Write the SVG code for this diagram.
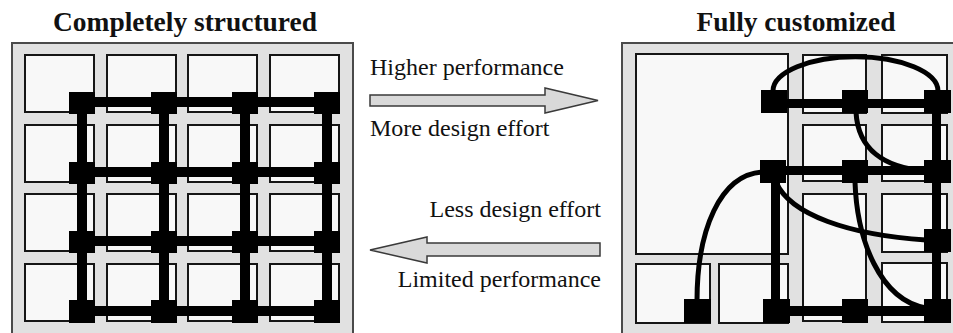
<svg xmlns="http://www.w3.org/2000/svg" width="953" height="333" viewBox="0 0 953 333">
  <style>
    .panel { fill: #e1e1e1; stroke: #4a4a4a; stroke-width: 2; }
    .cell { fill: #f8f8f8; stroke: #151515; stroke-width: 2; }
    .pad { fill: #000; }
    .wire { fill: #000; }
    .curve { fill: none; stroke: #000; stroke-width: 5; }
    .arrow { fill: #d9d9d9; stroke: #3a3a3a; stroke-width: 1.5; stroke-linejoin: miter; }
    .title { font-family: "Liberation Serif", "Times New Roman", serif; font-weight: bold; font-size: 27px; fill: #111; text-anchor: middle; }
    .label { font-family: "Liberation Serif", "Times New Roman", serif; font-size: 24px; fill: #111; }
  </style>

  <!-- Titles -->
  <text class="title" x="185" y="31" textLength="264" lengthAdjust="spacingAndGlyphs">Completely structured</text>
  <text class="title" x="796" y="31" textLength="199" lengthAdjust="spacingAndGlyphs">Fully customized</text>

  <!-- Left: regular array of blocks with a uniform routing grid -->
  <g id="structured">
    <rect class="panel" x="12" y="43" width="341" height="295"/>
    <g id="s-cells">
      <rect class="cell" x="25" y="55" width="69" height="57"/>
      <rect class="cell" x="107" y="55" width="69" height="57"/>
      <rect class="cell" x="188" y="55" width="69" height="57"/>
      <rect class="cell" x="270" y="55" width="69" height="57"/>
      <rect class="cell" x="25" y="125" width="69" height="57"/>
      <rect class="cell" x="107" y="125" width="69" height="57"/>
      <rect class="cell" x="188" y="125" width="69" height="57"/>
      <rect class="cell" x="270" y="125" width="69" height="57"/>
      <rect class="cell" x="25" y="194" width="69" height="57"/>
      <rect class="cell" x="107" y="194" width="69" height="57"/>
      <rect class="cell" x="188" y="194" width="69" height="57"/>
      <rect class="cell" x="270" y="194" width="69" height="57"/>
      <rect class="cell" x="25" y="264" width="69" height="57"/>
      <rect class="cell" x="107" y="264" width="69" height="57"/>
      <rect class="cell" x="188" y="264" width="69" height="57"/>
      <rect class="cell" x="270" y="264" width="69" height="57"/>
    </g>
    <g id="s-wires">
      <rect class="wire" x="69" y="97" width="271" height="10"/>
      <rect class="wire" x="69" y="167" width="271" height="10"/>
      <rect class="wire" x="69" y="236" width="271" height="10"/>
      <rect class="wire" x="69" y="306" width="271" height="10"/>
      <rect class="wire" x="77" y="95" width="10" height="225"/>
      <rect class="wire" x="159" y="95" width="10" height="225"/>
      <rect class="wire" x="240" y="95" width="10" height="225"/>
      <rect class="wire" x="322" y="95" width="10" height="225"/>
    </g>
    <g id="s-pads">
      <rect class="pad" x="69" y="92" width="26" height="22"/>
      <rect class="pad" x="151" y="92" width="26" height="22"/>
      <rect class="pad" x="232" y="92" width="26" height="22"/>
      <rect class="pad" x="314" y="92" width="26" height="22"/>
      <rect class="pad" x="69" y="162" width="26" height="22"/>
      <rect class="pad" x="151" y="162" width="26" height="22"/>
      <rect class="pad" x="232" y="162" width="26" height="22"/>
      <rect class="pad" x="314" y="162" width="26" height="22"/>
      <rect class="pad" x="69" y="231" width="26" height="22"/>
      <rect class="pad" x="151" y="231" width="26" height="22"/>
      <rect class="pad" x="232" y="231" width="26" height="22"/>
      <rect class="pad" x="314" y="231" width="26" height="22"/>
      <rect class="pad" x="69" y="300" width="26" height="23"/>
      <rect class="pad" x="151" y="300" width="26" height="23"/>
      <rect class="pad" x="232" y="300" width="26" height="23"/>
      <rect class="pad" x="314" y="300" width="26" height="23"/>
    </g>
  </g>

  <!-- Middle: trade-off arrows -->
  <g id="tradeoff">
    <text class="label" x="370" y="75">Higher performance</text>
    <polygon class="arrow" points="370,95 545,95 545,88 598,100.5 545,113 545,106 370,106"/>
    <text class="label" x="370" y="136">More design effort</text>

    <text class="label" x="601" y="217" text-anchor="end">Less design effort</text>
    <polygon class="arrow" points="370,250 427,237 427,243 600,243 600,256 427,256 427,263"/>
    <text class="label" x="601" y="287" text-anchor="end">Limited performance</text>
  </g>

  <!-- Right: irregular blocks with custom routing -->
  <g id="customized">
    <rect class="panel" x="622" y="43" width="345" height="295"/>
    <g id="c-cells">
      <rect class="cell" x="636" y="54" width="152" height="200"/>
      <rect class="cell" x="636" y="264" width="74" height="59"/>
      <rect class="cell" x="719" y="264" width="69" height="59"/>
      <rect class="cell" x="803" y="55" width="63" height="58"/>
      <rect class="cell" x="882" y="55" width="65" height="58"/>
      <rect class="cell" x="803" y="125" width="63" height="56"/>
      <rect class="cell" x="882" y="125" width="65" height="56"/>
      <rect class="cell" x="803" y="194" width="63" height="127"/>
      <rect class="cell" x="882" y="194" width="65" height="58"/>
      <rect class="cell" x="882" y="263" width="65" height="59"/>
    </g>
    <g id="c-wires">
      <rect class="wire" x="761" y="99" width="189" height="9"/>
      <rect class="wire" x="760" y="166" width="190" height="9"/>
      <rect class="wire" x="763" y="306" width="187" height="10"/>
      <rect class="wire" x="771" y="172" width="9" height="138"/>
      <rect class="wire" x="932" y="100" width="9" height="210"/>
      <path class="curve" d="M 773 91 A 82 34 0 0 1 938 91"/>
      <path class="curve" d="M 856 112 C 858 150 885 168 926 171"/>
      <path class="curve" d="M 762 172 C 720 175 697 230 697 301"/>
      <path class="curve" d="M 776 182 C 790 215 850 235 926 240"/>
      <path class="curve" d="M 855 182 C 857 240 880 300 926 308"/>
    </g>
    <g id="c-pads">
      <rect class="pad" x="761" y="90" width="26" height="23"/>
      <rect class="pad" x="842" y="90" width="26" height="23"/>
      <rect class="pad" x="924" y="90" width="27" height="23"/>
      <rect class="pad" x="760" y="160" width="26" height="23"/>
      <rect class="pad" x="842" y="160" width="26" height="23"/>
      <rect class="pad" x="924" y="160" width="27" height="23"/>
      <rect class="pad" x="924" y="229" width="27" height="23"/>
      <rect class="pad" x="684" y="299" width="27" height="24"/>
      <rect class="pad" x="763" y="299" width="27" height="24"/>
      <rect class="pad" x="842" y="299" width="26" height="24"/>
      <rect class="pad" x="924" y="299" width="27" height="24"/>
    </g>
  </g>
</svg>
